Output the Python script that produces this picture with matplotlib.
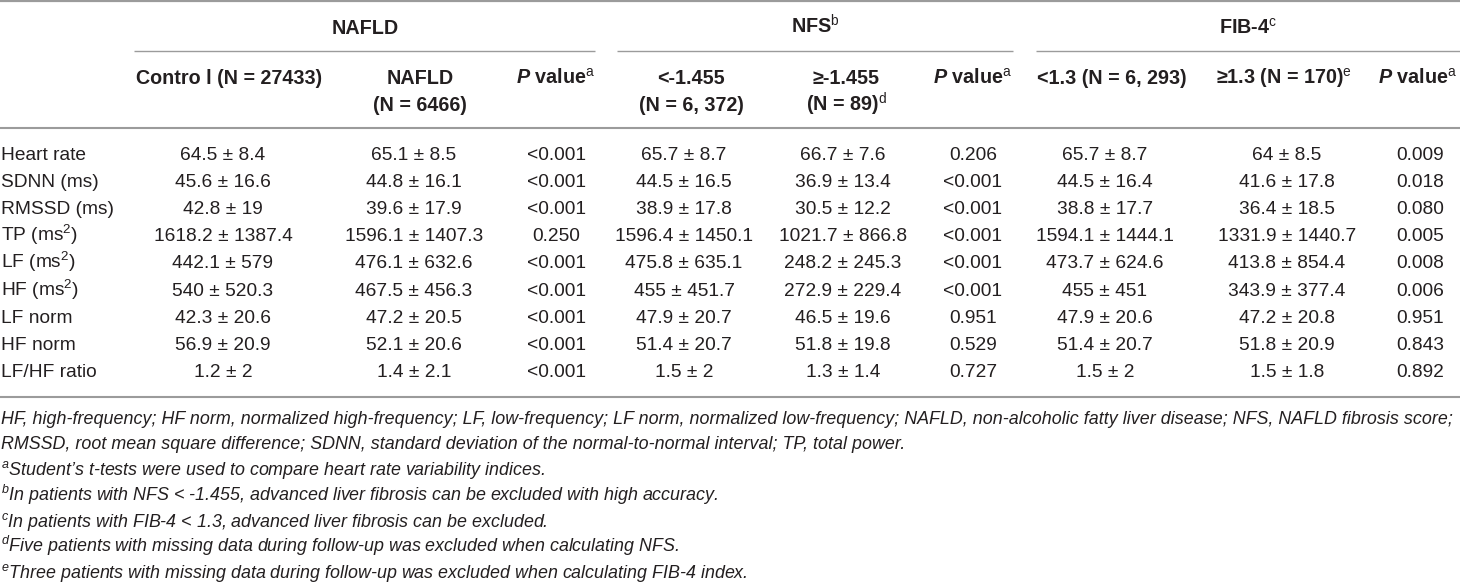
import matplotlib
matplotlib.use("Agg")
import matplotlib.pyplot as plt

plt.rcParams['font.family'] = ['Liberation Sans', 'DejaVu Sans']
plt.rcParams['mathtext.fontset'] = 'custom'
plt.rcParams['mathtext.rm'] = 'Liberation Sans'
plt.rcParams['mathtext.it'] = 'Liberation Sans:italic'
plt.rcParams['mathtext.bf'] = 'Liberation Sans:bold'
plt.rcParams['mathtext.bfit'] = 'Liberation Sans:italic:bold'

# ---------------- data ----------------
group_headers = ["NAFLD", "NFS$^{\\mathrm{b}}$", "FIB-4$^{\\mathrm{c}}$"]
col_headers_1 = ["Contro l (N = 27433)", "NAFLD", "$\\mathbfit{P}$ value$^{\\mathrm{a}}$",
                 "<-1.455", "≥-1.455", "$\\mathbfit{P}$ value$^{\\mathrm{a}}$",
                 "<1.3 (N = 6, 293)", "≥1.3 (N = 170)$^{\\mathrm{e}}$", "$\\mathbfit{P}$ value$^{\\mathrm{a}}$"]
col_headers_2 = ["", "(N = 6466)", "", "(N = 6, 372)", "(N = 89)$^{\\mathrm{d}}$", "", "", "", ""]

row_labels = ["Heart rate", "SDNN (ms)", "RMSSD (ms)", "TP (ms$^{2}$)", "LF (ms$^{2}$)",
              "HF (ms$^{2}$)", "LF norm", "HF norm", "LF/HF ratio"]

control_mean = [64.5, 45.6, 42.8, 1618.2, 442.1, 540, 42.3, 56.9, 1.2]
control_sd = [8.4, 16.6, 19, 1387.4, 579, 520.3, 20.6, 20.9, 2]
nafld_mean = [65.1, 44.8, 39.6, 1596.1, 476.1, 467.5, 47.2, 52.1, 1.4]
nafld_sd = [8.5, 16.1, 17.9, 1407.3, 632.6, 456.3, 20.5, 20.6, 2.1]
p_nafld = ["<0.001", "<0.001", "<0.001", "0.250", "<0.001", "<0.001", "<0.001", "<0.001", "<0.001"]

nfs_low_mean = [65.7, 44.5, 38.9, 1596.4, 475.8, 455, 47.9, 51.4, 1.5]
nfs_low_sd = [8.7, 16.5, 17.8, 1450.1, 635.1, 451.7, 20.7, 20.7, 2]
nfs_high_mean = [66.7, 36.9, 30.5, 1021.7, 248.2, 272.9, 46.5, 51.8, 1.3]
nfs_high_sd = [7.6, 13.4, 12.2, 866.8, 245.3, 229.4, 19.6, 19.8, 1.4]
p_nfs = ["0.206", "<0.001", "<0.001", "<0.001", "<0.001", "<0.001", "0.951", "0.529", "0.727"]

fib_low_mean = [65.7, 44.5, 38.8, 1594.1, 473.7, 455, 47.9, 51.4, 1.5]
fib_low_sd = [8.7, 16.4, 17.7, 1444.1, 624.6, 451, 20.6, 20.7, 2]
fib_high_mean = [64, 41.6, 36.4, 1331.9, 413.8, 343.9, 47.2, 51.8, 1.5]
fib_high_sd = [8.5, 17.8, 18.5, 1440.7, 854.4, 377.4, 20.8, 20.9, 1.8]
p_fib = ["0.009", "0.018", "0.080", "0.005", "0.008", "0.006", "0.951", "0.843", "0.892"]

footnotes = [
    "HF, high-frequency; HF norm, normalized high-frequency; LF, low-frequency; LF norm, normalized low-frequency; NAFLD, non-alcoholic fatty liver disease; NFS, NAFLD fibrosis score;",
    "RMSSD, root mean square difference; SDNN, standard deviation of the normal-to-normal interval; TP, total power.",
    "$^{a}$Student’s t-tests were used to compare heart rate variability indices.",
    "$^{b}$In patients with NFS < -1.455, advanced liver fibrosis can be excluded with high accuracy.",
    "$^{c}$In patients with FIB-4 < 1.3, advanced liver fibrosis can be excluded.",
    "$^{d}$Five patients with missing data during follow-up was excluded when calculating NFS.",
    "$^{e}$Three patients with missing data during follow-up was excluded when calculating FIB-4 index.",
]

# ---------------- layout ----------------
W, H = 1460, 584
fig = plt.figure(figsize=(W / 100, H / 100), dpi=100)
ax = fig.add_axes([0, 0, 1, 1])
ax.set_xlim(0, W)
ax.set_ylim(H, 0)
ax.axis('off')

TXT = '#231f20'
RULE = '#9b9b9b'
FS = 13.8
FSB = 14.2
FSF = 12.85

header_x = [229, 420, 556, 691, 846, 973, 1112, 1284, 1418]
data_x = [223, 414, 556, 684, 843, 973, 1105, 1287, 1420]
group_x = [365, 815, 1248]
group_spans = [(134, 595), (617, 1013), (1036, 1460)]

def pm(m, s):
    return [f"{a:g} ± {b:g}" for a, b in zip(m, s)]

columns = [pm(control_mean, control_sd), pm(nafld_mean, nafld_sd), p_nafld,
           pm(nfs_low_mean, nfs_low_sd), pm(nfs_high_mean, nfs_high_sd), p_nfs,
           pm(fib_low_mean, fib_low_sd), pm(fib_high_mean, fib_high_sd), p_fib]

# rules
ax.hlines(1, 0, W, color=RULE, lw=1.6)
ax.hlines(128, 0, W, color=RULE, lw=1.5)
ax.hlines(397, 0, W, color=RULE, lw=1.5)
for (a, b) in group_spans:
    ax.hlines(51, a, b, color=RULE, lw=1.0)

BASE = 7.0
# group headers
for gx, g in zip(group_x, group_headers):
    ax.text(gx, 27 + BASE, g, ha='center', va='baseline', fontsize=FSB, fontweight='bold', color=TXT)

# column headers
for hx, h1, h2 in zip(header_x, col_headers_1, col_headers_2):
    ax.text(hx, 77 + BASE, h1, ha='center', va='baseline', fontsize=FSB, fontweight='bold', color=TXT)
    if h2:
        ax.text(hx, 104 + BASE, h2, ha='center', va='baseline', fontsize=FSB, fontweight='bold', color=TXT)

# rows
row_y0, row_dy = 153, 27.1
for i, lab in enumerate(row_labels):
    y = row_y0 + i * row_dy + BASE
    ax.text(1, y, lab, ha='left', va='baseline', fontsize=FS, color=TXT)
    for cx, col in zip(data_x, columns):
        ax.text(cx, y, col[i], ha='center', va='baseline', fontsize=FS, color=TXT)

# footnotes
foot_y0, foot_dy = 417, 25.8
for i, fn in enumerate(footnotes):
    ax.text(1, foot_y0 + i * foot_dy + 6.5, fn, ha='left', va='baseline', fontsize=FSF,
            style='italic', color=TXT)

fig.savefig('out.png', dpi=100, facecolor='white')
